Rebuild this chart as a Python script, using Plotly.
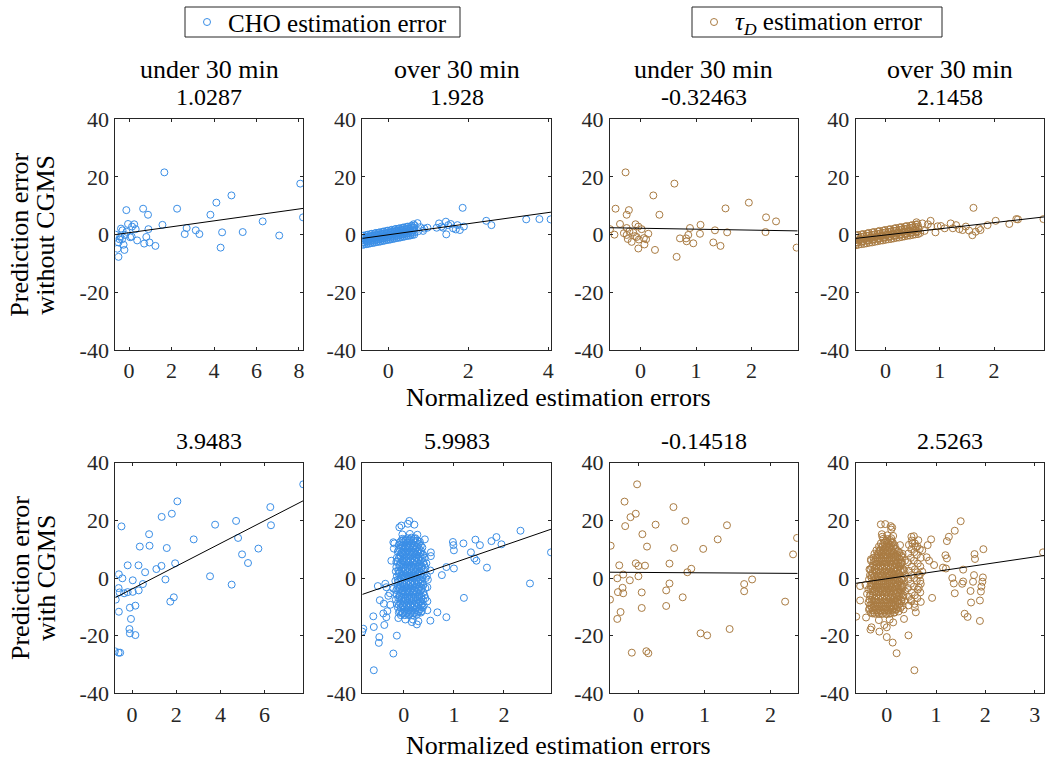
import plotly.graph_objects as go

W, H = 1045, 760
BLUE = "#3a8ee6"
BROWN = "#a97b42"
FONT = "Liberation Serif, Times New Roman, serif"
AX = "#262626"

# ---------------- data (x = normalized estimation error, y = prediction error) -------------
cho_u30_wo = [(1.66, 21.6), (8.06, 17.7), (4.82, 13.6), (4.11, 11.1), (-0.13, 8.5), (0.66, 9.0),
              (2.26, 9.0), (0.89, 6.9), (3.83, 6.9), (8.19, 6.0), (6.29, 4.6), (1.57, 3.4),
              (2.71, 2.3), (3.14, 1.5), (2.62, 0.2), (3.31, 0.2), (4.38, 0.8), (5.35, 0.9),
              (7.07, -0.3), (4.31, -4.5), (1.24, -3.9), (0.71, -3.1), (0.96, -2.7), (0.81, -0.8),
              (0.91, 1.9), (0.38, -2.0), (0.24, 3.6), (0.31, 1.9), (-0.05, 3.7), (0.14, 2.8),
              (-0.64, 0.0), (-0.5, -7.7), (-0.55, -4.9), (-0.22, -5.3), (-0.26, -3.5), (-0.38, 2.1),
              (-0.31, 1.5), (-0.45, -1.6), (-0.42, -0.7), (-0.2, -0.1), (-0.12, 1.0), (0.05, -0.9),
              (0.12, -0.7), (-0.5, -2.7), (-0.33, -1.6)]

cho_o30_wo = [
    (-0.65, -3.6), (-0.64, -2.8), (-0.66, -2.0), (-0.65, -1.2), (-0.64, -0.4),
    (-0.60, -3.4), (-0.61, -2.7), (-0.59, -1.9), (-0.60, -1.1), (-0.61, -0.3),
    (-0.55, -3.3), (-0.54, -2.5), (-0.56, -1.7), (-0.55, -0.9), (-0.54, -0.1),
    (-0.50, -3.2), (-0.51, -2.4), (-0.49, -1.6), (-0.50, -0.8), (-0.51, 0.0),
    (-0.45, -3.0), (-0.44, -2.2), (-0.46, -1.5), (-0.45, -0.7), (-0.44, 0.2),
    (-0.40, -2.9), (-0.41, -2.1), (-0.39, -1.3), (-0.40, -0.5), (-0.41, 0.3),
    (-0.35, -2.8), (-0.34, -2.0), (-0.36, -1.2), (-0.35, -0.4), (-0.34, 0.4),
    (-0.30, -2.6), (-0.31, -1.8), (-0.29, -1.0), (-0.30, -0.2), (-0.31, 0.6),
    (-0.25, -2.5), (-0.24, -1.7), (-0.26, -0.9), (-0.25, -0.1), (-0.24, 0.7),
    (-0.20, -2.4), (-0.21, -1.6), (-0.19, -0.8), (-0.20, 0.0), (-0.21, 0.8),
    (-0.15, -2.2), (-0.14, -1.4), (-0.16, -0.6), (-0.15, 0.2), (-0.14, 1.0),
    (-0.10, -2.1), (-0.11, -1.3), (-0.09, -0.5), (-0.10, 0.3), (-0.11, 1.1),
    (-0.05, -1.9), (-0.04, -1.1), (-0.06, -0.3), (-0.05, 0.5), (-0.04, 1.3),
    (0.00, -1.8), (-0.01, -1.0), (0.01, -0.2), (0.00, 0.6), (-0.01, 1.4),
    (0.05, -1.7), (0.06, -0.9), (0.04, -0.1), (0.05, 0.7), (0.06, 1.5),
    (0.10, -1.5), (0.09, -0.7), (0.11, 0.1), (0.10, 0.9), (0.09, 1.7),
    (0.15, -1.4), (0.16, -0.6), (0.14, 0.2), (0.15, 1.0), (0.16, 1.8),
    (0.20, -1.2), (0.19, -0.4), (0.21, 0.4), (0.20, 1.2), (0.19, 2.0),
    (0.25, -1.1), (0.26, -0.3), (0.24, 0.5), (0.25, 1.3), (0.26, 2.1),
    (0.30, -1.0), (0.29, -0.2), (0.31, 0.6), (0.30, 1.4), (0.29, 2.2),
    (0.35, -0.8), (0.36, 0.0), (0.34, 0.8), (0.35, 1.6), (0.36, 2.4),
    (0.40, -0.7), (0.39, 0.1), (0.41, 0.9), (0.40, 1.7), (0.39, 2.5),
    (0.45, -0.5), (0.46, 0.3), (0.44, 1.1), (0.45, 1.9), (0.46, 2.7),
    (0.50, -0.4), (0.49, 0.4), (0.51, 1.2), (0.50, 2.0), (0.49, 2.8),
    (0.55, -0.3), (0.56, 0.5), (0.54, 1.3), (0.55, 2.1), (0.56, 2.9),
    (0.60, -0.1), (0.59, 0.7), (0.61, 1.5), (0.60, 2.3), (0.59, 3.1),
    (0.65, 0.0), (0.66, 0.8), (0.64, 1.6), (0.65, 2.4), (0.66, 3.2),
    (0.73, 4.0), (0.63, 3.6), (0.87, 1.3), (0.9, 2.1), (0.98, 2.4), (1.21, 2.4), (1.27, 3.9),
    (1.33, 2.8), (1.37, 2.4), (1.44, 4.5), (1.45, 0.1), (1.5, 3.3), (1.56, 3.7), (1.62, 2.2),
    (1.69, 1.8), (1.73, 3.3), (1.79, 1.6), (1.86, 9.3), (1.89, 2.8), (2.45, 4.8), (2.58, 3.3),
    (3.45, 5.3), (3.78, 5.4), (4.06, 5.3), (0.75, 1.2), (0.8, 2.6), (-0.62, -1.2)]

tau_u30_wo = [(-0.27, 21.6), (0.61, 17.7), (0.23, 13.6), (1.95, 11.1), (-0.45, 9.0), (-0.21, 8.5),
              (1.53, 9.1), (-0.25, 6.9), (0.34, 6.9), (2.26, 6.0), (2.44, 4.6), (-0.37, 3.7),
              (-0.09, 3.6), (1.08, 3.4), (0.89, 2.3), (-0.55, 1.9), (-0.25, 2.3), (-0.04, 2.8),
              (0.02, 1.9), (1.34, 1.5), (-0.47, 0.0), (0.14, 0.3), (1.07, 0.3), (1.56, 0.8),
              (2.25, 0.9), (-0.25, -0.1), (-0.13, 0.7), (-0.07, -0.8), (-0.23, -1.5), (-0.16, -2.5),
              (-0.03, -1.7), (0.06, -1.2), (0.07, -3.4), (-0.04, -4.8), (0.26, -5.3), (0.65, -7.7),
              (0.71, -1.3), (0.82, -1.3), (0.83, -2.3), (0.86, -0.1), (0.95, -3.0), (1.31, -2.7),
              (1.44, -3.9), (2.81, -4.5), (-0.1, -0.5), (-0.2, 1.2), (0.1, -1.6), (-0.3, 0.5)]

tau_o30_wo = [
    (-0.55, -3.7), (-0.54, -2.8), (-0.56, -2.0), (-0.55, -1.1), (-0.54, -0.3),
    (-0.50, -3.5), (-0.51, -2.7), (-0.49, -1.8), (-0.50, -1.0), (-0.51, -0.1),
    (-0.45, -3.3), (-0.44, -2.5), (-0.46, -1.6), (-0.45, -0.8), (-0.44, 0.1),
    (-0.40, -3.2), (-0.41, -2.3), (-0.39, -1.5), (-0.40, -0.6), (-0.41, 0.2),
    (-0.35, -3.0), (-0.34, -2.1), (-0.36, -1.3), (-0.35, -0.4), (-0.34, 0.4),
    (-0.30, -2.8), (-0.31, -2.0), (-0.29, -1.1), (-0.30, -0.3), (-0.31, 0.6),
    (-0.25, -2.7), (-0.24, -1.8), (-0.26, -1.0), (-0.25, -0.1), (-0.24, 0.8),
    (-0.20, -2.5), (-0.21, -1.6), (-0.19, -0.8), (-0.20, 0.1), (-0.21, 0.9),
    (-0.15, -2.3), (-0.14, -1.5), (-0.16, -0.6), (-0.15, 0.2), (-0.14, 1.1),
    (-0.10, -2.1), (-0.11, -1.3), (-0.09, -0.4), (-0.10, 0.4), (-0.11, 1.3),
    (-0.05, -2.0), (-0.04, -1.1), (-0.06, -0.3), (-0.05, 0.6), (-0.04, 1.4),
    (0.00, -1.8), (-0.01, -1.0), (0.01, -0.1), (0.00, 0.8), (-0.01, 1.6),
    (0.05, -1.6), (0.06, -0.8), (0.04, 0.1), (0.05, 0.9), (0.06, 1.8),
    (0.10, -1.5), (0.09, -0.6), (0.11, 0.2), (0.10, 1.1), (0.09, 1.9),
    (0.15, -1.3), (0.16, -0.4), (0.14, 0.4), (0.15, 1.3), (0.16, 2.1),
    (0.20, -1.1), (0.19, -0.3), (0.21, 0.6), (0.20, 1.4), (0.19, 2.3),
    (0.25, -1.0), (0.26, -0.1), (0.24, 0.8), (0.25, 1.6), (0.26, 2.5),
    (0.30, -0.8), (0.29, 0.1), (0.31, 0.9), (0.30, 1.8), (0.29, 2.6),
    (0.35, -0.6), (0.36, 0.2), (0.34, 1.1), (0.35, 1.9), (0.36, 2.8),
    (0.40, -0.4), (0.39, 0.4), (0.41, 1.3), (0.40, 2.1), (0.39, 3.0),
    (0.45, -0.3), (0.46, 0.6), (0.44, 1.4), (0.45, 2.3), (0.46, 3.1),
    (0.50, -0.1), (0.49, 0.8), (0.51, 1.6), (0.50, 2.5), (0.49, 3.3),
    (0.55, 0.1), (0.56, 0.9), (0.54, 1.8), (0.55, 2.6), (0.56, 3.5),
    (0.60, 0.2), (0.59, 1.1), (0.61, 1.9), (0.60, 2.8), (0.59, 3.6),
    (1.62, 9.3), (2.03, 4.8), (2.28, 3.7), (2.41, 5.4), (2.44, 5.3), (2.91, 5.4), (1.88, 3.3),
    (1.6, -0.2), (0.92, 0.8), (0.68, 3.9), (0.83, 4.8), (0.96, 2.9), (1.2, 3.9), (1.3, 3.3),
    (1.42, 1.6), (1.48, 2.8), (1.54, 1.4), (1.66, 1.0), (1.72, 2.2), (1.09, 2.2), (0.72, 1.3),
    (1.24, 2.2), (1.36, 1.9), (0.84, 2.8), (0.57, 4.3), (0.64, 0.6), (1.75, 1.6), (1.02, 3.0),
    (0.78, 3.6)]

cho_u30_w = [(7.75, 32.5), (2.05, 26.6), (6.26, 24.6), (1.34, 21.2), (1.8, 22.3), (4.71, 19.8),
             (-0.48, 17.9), (3.76, 18.5), (6.29, 18.3), (0.77, 15.2), (2.79, 13.4), (4.8, 13.9),
             (0.35, 10.9), (0.79, 11.2), (1.57, 10.4), (5.72, 10.2), (4.98, 8.2), (5.25, 5.2),
             (1.95, 5.1), (-0.2, 4.4), (0.29, 4.4), (1.33, 4.2), (1.1, 3.1), (0.59, 2.0),
             (3.53, 0.6), (-0.6, 1.3), (-0.44, -0.1), (0.03, -0.8), (1.51, -0.5), (0.49, -2.1),
             (4.51, -2.3), (-0.61, -3.5), (-0.57, -5.0), (-0.36, -5.3), (-0.2, -4.9), (0.03, -4.8),
             (0.3, -4.3), (-0.74, -7.5), (1.89, -6.7), (1.73, -8.2), (-0.6, -11.7), (-0.1, -10.3),
             (0.15, -9.6), (-0.05, -14.2), (-0.12, -17.7), (-0.1, -19.2), (0.15, -19.8),
             (-0.78, -25.4), (-0.61, -25.9), (-0.54, -25.9)]

cho_o30_w = [
    (-0.16, -7.5), (-0.15, -4.2), (-0.17, -1.0), (-0.16, 2.3), (-0.15, 5.6),
    (-0.14, -9.0), (-0.14, -5.8), (-0.13, -2.6), (-0.14, 0.6), (-0.15, 3.8), (-0.14, 7.0),
    (-0.12, -10.2), (-0.11, -7.0), (-0.13, -3.8), (-0.12, -0.6), (-0.11, 2.6), (-0.13, 5.8), (-0.12, 9.0),
    (-0.10, -12.0), (-0.10, -9.3), (-0.09, -6.6), (-0.10, -3.9), (-0.11, -1.2), (-0.10, 1.5),
    (-0.09, 4.2), (-0.10, 6.9), (-0.11, 9.6), (-0.10, 11.5),
    (-0.08, -11.5), (-0.07, -8.8), (-0.09, -6.1), (-0.08, -3.4), (-0.07, -0.7), (-0.09, 2.0),
    (-0.08, 4.7), (-0.07, 7.4), (-0.09, 10.1), (-0.08, 12.4),
    (-0.06, -12.9), (-0.06, -10.3), (-0.05, -7.7), (-0.06, -5.1), (-0.07, -2.5), (-0.06, 0.1),
    (-0.05, 2.7), (-0.06, 5.3), (-0.07, 7.9), (-0.06, 10.5), (-0.05, 12.9),
    (-0.04, -12.2), (-0.03, -9.6), (-0.05, -7.0), (-0.04, -4.4), (-0.03, -1.8), (-0.05, 0.8),
    (-0.04, 3.4), (-0.03, 6.0), (-0.05, 8.6), (-0.04, 11.2), (-0.03, 13.6),
    (-0.02, -12.0), (-0.02, -9.4), (-0.01, -6.8), (-0.02, -4.2), (-0.03, -1.6), (-0.02, 1.0),
    (-0.01, 3.6), (-0.02, 6.2), (-0.03, 8.8), (-0.02, 11.4), (-0.01, 13.2),
    (0.00, -11.0), (0.01, -8.4), (-0.01, -5.8), (0.00, -3.2), (0.01, -0.6), (-0.01, 2.0),
    (0.00, 4.6), (0.01, 7.2), (-0.01, 9.8), (0.00, 12.4),
    (0.02, -12.9), (0.02, -10.3), (0.03, -7.7), (0.02, -5.1), (0.01, -2.5), (0.02, 0.1),
    (0.03, 2.7), (0.02, 5.3), (0.01, 7.9), (0.02, 10.5), (0.03, 13.0),
    (0.04, -12.4), (0.05, -9.8), (0.03, -7.2), (0.04, -4.6), (0.05, -2.0), (0.03, 0.6),
    (0.04, 3.2), (0.05, 5.8), (0.03, 8.4), (0.04, 11.0), (0.05, 13.2),
    (0.06, -12.0), (0.06, -9.4), (0.07, -6.8), (0.06, -4.2), (0.05, -1.6), (0.06, 1.0),
    (0.07, 3.6), (0.06, 6.2), (0.05, 8.8), (0.06, 11.4), (0.07, 13.8),
    (0.08, -11.2), (0.09, -8.6), (0.07, -6.0), (0.08, -3.4), (0.09, -0.8), (0.07, 1.8),
    (0.08, 4.4), (0.09, 7.0), (0.07, 9.6), (0.08, 12.2),
    (0.10, -12.9), (0.10, -10.3), (0.11, -7.7), (0.10, -5.1), (0.09, -2.5), (0.10, 0.1),
    (0.11, 2.7), (0.10, 5.3), (0.09, 7.9), (0.10, 10.5), (0.11, 13.0),
    (0.12, -12.5), (0.13, -9.9), (0.11, -7.3), (0.12, -4.7), (0.13, -2.1), (0.11, 0.5),
    (0.12, 3.1), (0.13, 5.7), (0.11, 8.3), (0.12, 10.9), (0.13, 13.5),
    (0.14, -12.0), (0.14, -9.4), (0.15, -6.8), (0.14, -4.2), (0.13, -1.6), (0.14, 1.0),
    (0.15, 3.6), (0.14, 6.2), (0.13, 8.8), (0.14, 11.4), (0.15, 14.0),
    (0.16, -11.3), (0.17, -8.7), (0.15, -6.1), (0.16, -3.5), (0.17, -0.9), (0.15, 1.7),
    (0.16, 4.3), (0.17, 6.9), (0.15, 9.5), (0.16, 12.1),
    (0.18, -12.9), (0.18, -10.3), (0.19, -7.7), (0.18, -5.1), (0.17, -2.5), (0.18, 0.1),
    (0.19, 2.7), (0.18, 5.3), (0.17, 7.9), (0.18, 10.5), (0.19, 13.0),
    (0.20, -12.3), (0.21, -9.7), (0.19, -7.1), (0.20, -4.5), (0.21, -1.9), (0.19, 0.7),
    (0.20, 3.3), (0.21, 5.9), (0.19, 8.5), (0.20, 11.1), (0.21, 13.6),
    (0.22, -12.0), (0.22, -9.4), (0.23, -6.8), (0.22, -4.2), (0.21, -1.6), (0.22, 1.0),
    (0.23, 3.6), (0.22, 6.2), (0.21, 8.8), (0.22, 11.4), (0.23, 13.8),
    (0.24, -11.1), (0.25, -8.5), (0.23, -5.9), (0.24, -3.3), (0.25, -0.7), (0.23, 1.9),
    (0.24, 4.5), (0.25, 7.1), (0.23, 9.7), (0.24, 12.3),
    (0.26, -12.7), (0.26, -10.1), (0.27, -7.5), (0.26, -4.9), (0.25, -2.3), (0.26, 0.3),
    (0.27, 2.9), (0.26, 5.5), (0.25, 8.1), (0.26, 10.7), (0.27, 13.0),
    (0.28, -12.0), (0.29, -9.4), (0.27, -6.8), (0.28, -4.2), (0.29, -1.6), (0.27, 1.0),
    (0.28, 3.6), (0.29, 6.2), (0.27, 8.8), (0.28, 11.4),
    (0.30, -11.5), (0.30, -8.9), (0.31, -6.3), (0.30, -3.7), (0.29, -1.1), (0.30, 1.5),
    (0.31, 4.1), (0.30, 6.7), (0.29, 9.3), (0.30, 11.9),
    (0.32, -10.8), (0.33, -8.2), (0.31, -5.6), (0.32, -3.0), (0.33, -0.4), (0.31, 2.2),
    (0.32, 4.8), (0.33, 7.4), (0.31, 10.0), (0.32, 12.6),
    (0.34, -12.0), (0.34, -9.5), (0.35, -7.0), (0.34, -4.4), (0.33, -1.8), (0.34, 0.8),
    (0.35, 3.4), (0.34, 6.0), (0.33, 8.6), (0.34, 11.2),
    (0.36, -11.5), (0.37, -8.9), (0.35, -6.3), (0.36, -3.7), (0.37, -1.1), (0.35, 1.5),
    (0.36, 4.1), (0.37, 6.7), (0.35, 9.3),
    (0.38, -10.2), (0.38, -7.6), (0.39, -5.0), (0.38, -2.4), (0.37, 0.2), (0.38, 2.8),
    (0.39, 5.4), (0.38, 8.0), (0.37, 10.6),
    (0.40, -9.5), (0.41, -6.0), (0.39, -2.5), (0.40, 1.0), (0.41, 4.5), (0.39, 8.0),
    (0.43, -7.0), (0.43, -3.5), (0.44, 0.0), (0.43, 3.5), (0.42, 7.0),
    (2.33, 16.4), (1.85, 14.2), (1.75, 12.8), (1.95, 11.7), (1.43, 13.3), (1.52, 11.4),
    (1.19, 12.0), (0.98, 12.5), (0.99, 11.4), (1.0, 9.6), (1.34, 8.9), (1.41, 6.8),
    (1.45, 6.0), (1.66, 3.6), (1.0, 3.3), (0.85, 3.8), (0.76, 1.0), (2.94, 8.9),
    (2.52, -1.9), (1.2, -6.9), (0.67, -11.9), (0.85, -13.6), (0.53, -14.8), (-0.83, -18.6),
    (-0.81, -17.6), (-0.61, -13.3), (-0.6, -17.0), (-0.49, -20.5), (-0.5, -22.5),
    (-0.21, -26.2), (-0.6, -32.0), (-0.14, -20.0), (-0.39, -16.3), (-0.41, -12.3),
    (-0.35, -13.6), (-0.33, -11.5), (-0.48, -7.7), (-0.4, -8.9), (-0.27, -9.3),
    (-0.11, -13.9), (0.03, -14.4), (0.16, -15.3), (0.26, -16.1), (0.29, -15.0), (0.18, -14.4),
    (0.47, -11.2), (0.47, -8.1), (0.47, -3.2), (-0.28, -5.3), (-0.31, -6.2), (-0.21, -3.7),
    (-0.37, -2.0), (-0.52, -2.8), (-0.35, -3.2), (-0.25, 6.0), (-0.2, 10.2), (-0.21, 12.4),
    (-0.09, 17.6), (-0.05, 18.2), (0.11, 19.8), (0.08, 18.8), (0.21, 18.5), (0.54, 8.9),
    (0.54, 7.6), (0.45, 5.1), (0.53, 2.6), (0.46, 0.8), (0.48, -0.6), (-0.03, 15.1),
    (0.12, 15.3), (0.27, 15.0), (0.42, 13.4), (-0.19, 12.0)]

tau_u30_w = [(-0.02, 32.5), (-0.21, 26.5), (0.53, 24.6), (-0.04, 22.3), (-0.12, 21.1), (0.71, 19.8),
             (-0.2, 18.0), (0.26, 18.5), (1.34, 18.3), (0.06, 15.2), (1.2, 13.4), (2.4, 13.9),
             (-0.42, 11.2), (0.13, 10.9), (0.54, 10.4), (0.98, 10.1), (2.34, 8.2), (-0.04, 5.1),
             (0.47, 5.0), (-0.29, 4.4), (0.0, 4.2), (0.1, 4.3), (0.8, 3.2), (0.74, 2.0),
             (-0.23, 1.2), (0.0, 0.6), (-0.32, -0.1), (-0.13, -0.8), (1.72, -0.5), (0.47, -1.9),
             (1.6, -2.1), (-0.24, -3.4), (0.42, -4.3), (-0.31, -4.9), (-0.23, -5.3), (0.05, -5.0),
             (1.6, -4.6), (0.67, -6.7), (-0.43, -7.5), (2.22, -8.2), (0.42, -9.7), (0.05, -10.4),
             (-0.27, -11.8), (-0.32, -14.2), (1.38, -17.7), (0.94, -19.2), (1.04, -19.9),
             (-0.1, -25.9), (0.12, -25.4), (0.15, -26.1)]

tau_o30_w = [
    (-0.36, -11.0), (-0.35, -7.5), (-0.37, -4.0), (-0.36, -0.5), (-0.35, 3.0),
    (-0.34, -9.5), (-0.34, -6.0), (-0.33, -2.5), (-0.34, 1.0),
    (-0.32, -12.0), (-0.31, -9.0), (-0.33, -6.0), (-0.32, -3.0), (-0.31, 0.0), (-0.33, 3.0), (-0.32, 6.0),
    (-0.30, -10.3), (-0.30, -7.5), (-0.29, -4.7), (-0.30, -1.9), (-0.31, 0.9), (-0.30, 3.7),
    (-0.28, -11.2), (-0.27, -8.6), (-0.29, -6.0), (-0.28, -3.4), (-0.27, -0.8), (-0.29, 1.8),
    (-0.28, 4.4), (-0.27, 7.0),
    (-0.26, -12.0), (-0.26, -9.9), (-0.25, -7.3), (-0.26, -4.7), (-0.27, -2.1), (-0.26, 0.5),
    (-0.25, 3.1), (-0.26, 5.7),
    (-0.24, -12.4), (-0.23, -9.8), (-0.25, -7.2), (-0.24, -4.6), (-0.23, -2.0), (-0.25, 0.6),
    (-0.24, 3.2), (-0.23, 5.8), (-0.25, 8.4),
    (-0.22, -11.1), (-0.22, -8.5), (-0.21, -5.9), (-0.22, -3.3), (-0.23, -0.7), (-0.22, 1.9),
    (-0.21, 4.5), (-0.22, 7.1),
    (-0.20, -11.2), (-0.19, -8.6), (-0.21, -6.0), (-0.20, -3.4), (-0.19, -0.8), (-0.21, 1.8),
    (-0.20, 4.4), (-0.19, 7.0), (-0.21, 9.6),
    (-0.18, -12.0), (-0.18, -9.9), (-0.17, -7.3), (-0.18, -4.7), (-0.19, -2.1), (-0.18, 0.5),
    (-0.17, 3.1), (-0.18, 5.7), (-0.19, 8.3),
    (-0.16, -12.5), (-0.15, -9.9), (-0.17, -7.3), (-0.16, -4.7), (-0.15, -2.1), (-0.17, 0.5),
    (-0.16, 3.1), (-0.15, 5.7), (-0.17, 8.3), (-0.16, 10.9),
    (-0.14, -11.2), (-0.14, -8.6), (-0.13, -6.0), (-0.14, -3.4), (-0.15, -0.8), (-0.14, 1.8),
    (-0.13, 4.4), (-0.14, 7.0), (-0.15, 9.6),
    (-0.12, -11.3), (-0.11, -8.7), (-0.13, -6.1), (-0.12, -3.5), (-0.11, -0.9), (-0.13, 1.7),
    (-0.12, 4.3), (-0.11, 6.9), (-0.13, 9.5), (-0.12, 12.0),
    (-0.10, -12.4), (-0.10, -9.9), (-0.09, -7.3), (-0.10, -4.7), (-0.11, -2.1), (-0.10, 0.5),
    (-0.09, 3.1), (-0.10, 5.7), (-0.11, 8.3), (-0.10, 10.9),
    (-0.08, -12.4), (-0.07, -9.8), (-0.09, -7.2), (-0.08, -4.6), (-0.07, -2.0), (-0.09, 0.6),
    (-0.08, 3.2), (-0.07, 5.8), (-0.09, 8.4), (-0.08, 11.0), (-0.07, 13.6),
    (-0.06, -11.1), (-0.06, -8.5), (-0.05, -5.9), (-0.06, -3.3), (-0.07, -0.7), (-0.06, 1.9),
    (-0.05, 4.5), (-0.06, 7.1), (-0.07, 9.7), (-0.06, 12.3),
    (-0.04, -11.2), (-0.03, -8.6), (-0.05, -6.0), (-0.04, -3.4), (-0.03, -0.8), (-0.05, 1.8),
    (-0.04, 4.4), (-0.03, 7.0), (-0.05, 9.6), (-0.04, 12.2),
    (-0.02, -12.4), (-0.02, -9.9), (-0.01, -7.3), (-0.02, -4.7), (-0.03, -2.1), (-0.02, 0.5),
    (-0.01, 3.1), (-0.02, 5.7), (-0.03, 8.3), (-0.02, 10.9), (-0.01, 13.0),
    (0.00, -12.5), (0.01, -9.9), (-0.01, -7.3), (0.00, -4.7), (0.01, -2.1), (-0.01, 0.5),
    (0.00, 3.1), (0.01, 5.7), (-0.01, 8.3), (0.00, 10.9), (0.01, 13.5),
    (0.02, -11.1), (0.02, -8.5), (0.03, -5.9), (0.02, -3.3), (0.01, -0.7), (0.02, 1.9),
    (0.03, 4.5), (0.02, 7.1), (0.01, 9.7), (0.02, 12.3),
    (0.04, -11.3), (0.05, -8.7), (0.03, -6.1), (0.04, -3.5), (0.05, -0.9), (0.03, 1.7),
    (0.04, 4.3), (0.05, 6.9), (0.03, 9.5), (0.04, 12.1),
    (0.06, -12.4), (0.06, -9.9), (0.07, -7.3), (0.06, -4.7), (0.05, -2.1), (0.06, 0.5),
    (0.07, 3.1), (0.06, 5.7), (0.05, 8.3), (0.06, 10.9), (0.07, 13.2),
    (0.08, -12.2), (0.09, -9.6), (0.07, -7.0), (0.08, -4.4), (0.09, -1.8), (0.07, 0.8),
    (0.08, 3.4), (0.09, 6.0), (0.07, 8.6), (0.08, 11.2), (0.09, 13.8),
    (0.10, -11.1), (0.10, -8.5), (0.11, -5.9), (0.10, -3.3), (0.09, -0.7), (0.10, 1.9),
    (0.11, 4.5), (0.10, 7.1), (0.09, 9.7), (0.10, 12.3),
    (0.12, -11.0), (0.13, -8.4), (0.11, -5.8), (0.12, -3.2), (0.13, -0.6), (0.11, 2.0),
    (0.12, 4.6), (0.13, 7.2), (0.11, 9.8), (0.12, 12.4),
    (0.14, -12.0), (0.14, -9.7), (0.15, -7.1), (0.14, -4.5), (0.13, -1.9), (0.14, 0.7),
    (0.15, 3.3), (0.14, 5.9), (0.13, 8.5), (0.14, 11.1),
    (0.16, -12.0), (0.17, -9.4), (0.15, -6.8), (0.16, -4.2), (0.17, -1.6), (0.15, 1.0),
    (0.16, 3.6), (0.17, 6.2), (0.15, 8.8), (0.16, 11.4),
    (0.18, -11.0), (0.18, -8.1), (0.19, -5.5), (0.18, -2.9), (0.17, -0.3), (0.18, 2.3),
    (0.19, 4.9), (0.18, 7.5), (0.17, 10.1),
    (0.20, -10.8), (0.21, -8.2), (0.19, -5.6), (0.20, -3.0), (0.21, -0.4), (0.19, 2.2),
    (0.20, 4.8), (0.21, 7.4), (0.19, 10.0),
    (0.22, -10.0), (0.22, -7.7), (0.23, -5.1), (0.22, -2.5), (0.21, 0.1), (0.22, 2.7),
    (0.23, 5.3), (0.22, 7.9),
    (0.24, -11.6), (0.25, -9.0), (0.23, -6.4), (0.24, -3.8), (0.25, -1.2), (0.23, 1.4),
    (0.24, 4.0), (0.25, 6.6), (0.23, 9.2),
    (0.26, -9.0), (0.26, -6.5), (0.27, -3.9), (0.26, -1.3), (0.25, 1.3), (0.26, 3.9),
    (0.27, 6.5), (0.26, 8.8),
    (0.28, -10.4), (0.29, -7.8), (0.27, -5.2), (0.28, -2.6), (0.29, 0.0), (0.27, 2.6),
    (0.28, 5.2), (0.29, 7.8),
    (0.30, -8.0), (0.30, -5.4), (0.31, -2.8), (0.30, -0.2), (0.29, 2.4), (0.30, 5.0), (0.31, 7.2),
    (0.32, -9.6), (0.33, -6.6), (0.31, -3.6), (0.32, -0.6), (0.33, 2.4), (0.31, 5.4), (0.32, 8.4),
    (0.34, -6.0), (0.34, -3.0), (0.35, 0.0), (0.34, 3.0),
    (0.36, -8.0), (0.37, -4.5), (0.35, -1.0), (0.36, 2.5), (0.37, 6.0),
    (0.44, -9.5), (0.45, -6.5), (0.43, -3.5), (0.44, -0.5), (0.45, 2.5), (0.43, 5.5), (0.44, 8.5), (0.45, 11.5),
    (0.50, -8.0), (0.51, -5.0), (0.49, -2.0), (0.50, 1.0), (0.51, 4.0), (0.49, 7.0), (0.50, 10.0), (0.51, 13.0),
    (0.56, -9.0), (0.57, -6.0), (0.55, -3.0), (0.56, 0.0), (0.57, 3.0), (0.55, 6.0), (0.56, 9.0),
    (0.57, 12.0), (0.55, 14.5),
    (0.62, -7.0), (0.63, -4.0), (0.61, -1.0), (0.62, 2.0), (0.63, 5.0), (0.61, 8.0), (0.62, 11.0),
    (0.68, -5.0), (0.69, -2.0), (0.67, 1.0), (0.68, 4.0), (0.69, 7.0), (0.67, 10.0),
    (3.17, 8.9), (1.5, 19.7), (1.38, 16.4), (1.26, 14.3), (1.22, 12.8), (1.19, 7.9), (1.22, 6.8),
    (1.14, 3.6), (1.2, 3.3), (1.55, 2.9), (1.78, 8.3), (1.79, 6.6), (1.96, 10.0), (1.33, 0.0),
    (1.36, -1.9), (1.53, -2.0), (1.55, -1.2), (1.38, -5.3), (1.7, -4.5), (1.71, -8.5),
    (1.77, 1.0), (1.75, -1.3), (1.58, -12.4), (1.64, -13.5), (1.89, -7.8), (1.89, -14.9),
    (1.91, -4.7), (1.92, -3.0), (1.94, -1.3), (1.95, 0.2), (0.92, -6.9), (0.96, 4.5),
    (0.86, 6.0), (0.81, 7.2), (0.9, 13.4), (0.83, 11.4), (0.64, 13.1), (0.52, 12.0),
    (0.59, 10.7), (0.5, 14.3), (0.72, 9.6), (0.65, 1.0), (0.72, 2.2), (0.68, -1.0),
    (0.65, -3.3), (0.69, -8.3), (0.59, -11.9), (0.57, -10.2), (0.49, -7.6), (0.44, -19.9),
    (0.56, -32.0), (0.2, -26.1), (0.12, -22.4), (0.0, -20.5), (0.35, -14.2), (0.34, -10.9),
    (0.13, -15.4), (0.06, -14.4), (-0.05, -16.3), (0.0, -17.1), (-0.16, -14.6), (-0.31, -17.1),
    (-0.33, -17.9), (-0.15, -18.6), (-0.62, -13.4), (-0.42, -13.7), (-0.29, -12.3),
    (-0.35, -10.6), (-0.54, -7.8), (-0.37, -8.5), (-0.4, -5.5), (-0.33, -3.9), (-0.54, -2.8),
    (-0.43, -2.4), (-0.32, 6.5), (-0.12, 18.6), (-0.03, 18.7), (0.08, 18.0), (0.11, 17.5),
    (0.09, 16.8), (-0.09, 14.3), (-0.1, 15.2), (0.01, 14.8), (0.13, 14.6), (0.27, 11.4)]

# regression slopes (shown as titles) and intercepts, per panel
slopes = [1.0287, 1.928, -0.32463, 2.1458, 3.9483, 5.9983, -0.14518, 2.5263]
intercepts = [0.67, -0.05, 2.22, -0.12, -3.8, -0.72, 1.94, -0.26]

col_titles = ["under 30 min", "over 30 min", "under 30 min", "over 30 min"]
row_titles = [["Prediction error", "without CGMS"], ["Prediction error", "with CGMS"]]
x_label = "Normalized estimation errors"
legend_names = ["CHO estimation error", "<i>τ</i><sub><i>D</i></sub> estimation error"]

y_ticks = [-40, -20, 0, 20, 40]
y_ticktext = ["-40", "-20", "0", "20", "40"]
x_ticks = [[0, 2, 4, 6, 8], [0, 2, 4], [0, 1, 2], [0, 1, 2],
           [0, 2, 4, 6], [0, 1, 2], [0, 1, 2], [0, 1, 2, 3]]

# ---------------- layout geometry ----------------
x_ranges = [[-0.65, 8.19], [-0.65, 4.07], [-0.55, 2.83], [-0.55, 2.92],
            [-0.76, 7.74], [-0.83, 2.94], [-0.43, 2.41], [-0.63, 3.19]]
cols_px = [(115.3, 303.0), (362.3, 551.0), (610.0, 797.7), (855.7, 1044.0)]
rows_px = [(119.3, 350.0), (462.7, 693.3)]
legend_boxes_px = [(185, 460), (692, 942)]   # left/right of each legend box
legend_top, legend_bottom = 7, 37

datasets = [cho_u30_wo, cho_o30_wo, tau_u30_wo, tau_o30_wo,
            cho_u30_w, cho_o30_w, tau_u30_w, tau_o30_w]
colors = [BLUE, BLUE, BROWN, BROWN, BLUE, BLUE, BROWN, BROWN]


def ann(text, xpx, ypx, size, angle=0, xanchor="center"):
    return dict(text=text, x=xpx / W, y=1 - ypx / H, xref="paper", yref="paper",
                xanchor=xanchor, yanchor="middle", showarrow=False, textangle=angle,
                font=dict(family=FONT, size=size, color="black"))


fig = go.Figure()
layout = dict(template="none", width=W, height=H, margin=dict(l=0, r=0, t=0, b=0, pad=0),
              paper_bgcolor="white", plot_bgcolor="white", showlegend=False,
              font=dict(family=FONT, color=AX), annotations=[], shapes=[])

for i, pts in enumerate(datasets):
    r, c = divmod(i, 4)
    n = "" if i == 0 else str(i + 1)
    xa, ya = "x" + n, "y" + n
    fig.add_trace(go.Scatter(
        x=[p[0] for p in pts], y=[p[1] for p in pts], mode="markers",
        marker=dict(symbol="circle-open", size=7, color=colors[i], line=dict(width=1)),
        xaxis=xa, yaxis=ya,
        name=legend_names[0] if c < 2 else legend_names[1]))
    xr = x_ranges[i]
    fig.add_trace(go.Scatter(
        x=xr, y=[intercepts[i] + slopes[i] * v for v in xr], mode="lines",
        line=dict(color="black", width=1), xaxis=xa, yaxis=ya, hoverinfo="skip"))
    l, rr = cols_px[c]
    t, b = rows_px[r]
    common = dict(showline=True, linecolor=AX, linewidth=1, mirror="ticks",
                  ticks="inside", ticklen=3, tickcolor=AX, tickwidth=1,
                  showgrid=False, zeroline=False, automargin=False,
                  tickfont=dict(family=FONT, size=22, color=AX))
    layout["xaxis" + n] = dict(domain=[l / W, rr / W], range=xr, anchor=ya,
                               tickvals=x_ticks[i], ticktext=[str(v) for v in x_ticks[i]],
                               ticklabelstandoff=1, **common)
    layout["yaxis" + n] = dict(domain=[1 - b / H, 1 - t / H], range=[-40, 40], anchor=xa,
                               tickvals=y_ticks, ticktext=y_ticktext,
                               ticklabelstandoff=1, **common)
    cx = (l + rr) / 2
    if r == 0:
        layout["annotations"].append(ann(col_titles[c], cx, 69, 26))
        ty = 97
    else:
        ty = 441
    layout["annotations"].append(ann(str(slopes[i]), cx, ty, 24))

for r, (t, b) in enumerate(rows_px):
    cy = (t + b) / 2
    layout["annotations"].append(ann(row_titles[r][0], 20, cy, 26, -90))
    layout["annotations"].append(ann(row_titles[r][1], 46, cy, 26, -90))
layout["annotations"].append(ann(x_label, 558, 397, 26))
layout["annotations"].append(ann(x_label, 558, 745, 26))

# legend boxes (one per estimated parameter)
ly = (legend_top + legend_bottom) / 2
for k, (bl, br) in enumerate(legend_boxes_px):
    layout["shapes"].append(dict(type="rect", xref="paper", yref="paper",
                                 x0=bl / W, x1=br / W, y0=1 - legend_bottom / H, y1=1 - legend_top / H,
                                 line=dict(color=AX, width=1), fillcolor="white", layer="above"))
    layout["shapes"].append(dict(type="circle", xref="paper", yref="paper",
                                 xsizemode="pixel", ysizemode="pixel",
                                 xanchor=(bl + 22) / W, yanchor=1 - ly / H,
                                 x0=-3.5, x1=3.5, y0=-3.5, y1=3.5,
                                 line=dict(color=BLUE if k == 0 else BROWN, width=1),
                                 layer="above"))
    layout["annotations"].append(ann(legend_names[k], bl + 41, ly + 1, 25, xanchor="left"))

fig.update_layout(**layout)
fig.write_html("out.html")
